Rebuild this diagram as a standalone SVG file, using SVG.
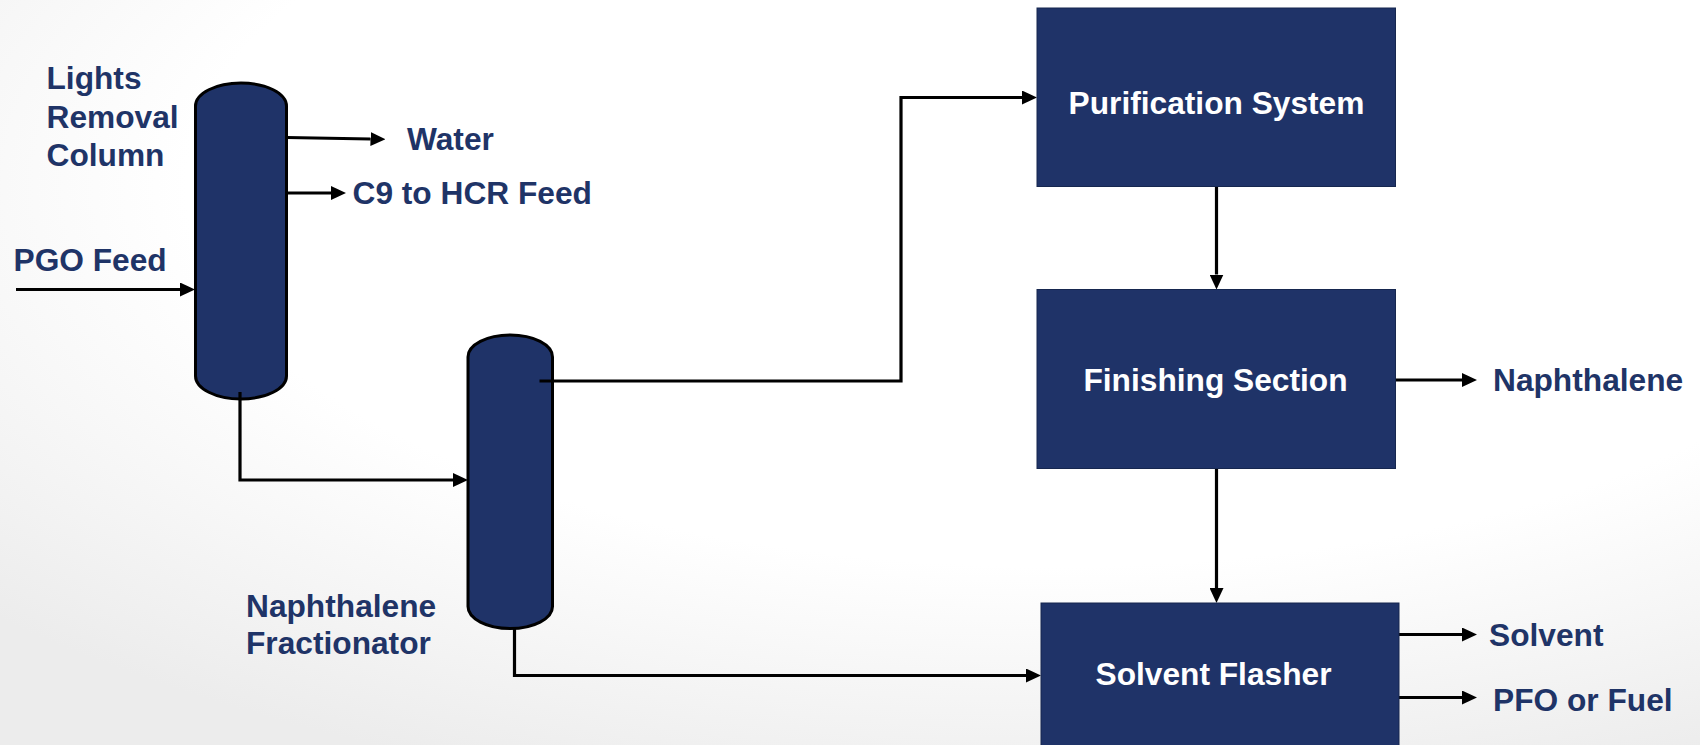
<svg xmlns="http://www.w3.org/2000/svg" width="1700" height="745" viewBox="0 0 1700 745">
  <style>
    .lbl { font-family: "Liberation Sans", Arial, sans-serif; font-weight: bold; font-size: 31.7px; fill: #1F3467; }
    .boxtxt { font-family: "Liberation Sans", Arial, sans-serif; font-weight: bold; font-size: 31.7px; fill: #FFFFFF; text-anchor: middle; }
    .vessel { fill: #1F3368; stroke: #000000; stroke-width: 3; }
    .unit { fill: #1F3368; stroke: #16274F; stroke-width: 1; }
    .flow { fill: none; stroke: #000000; stroke-width: 3.2; stroke-linejoin: miter; }
  </style>
  <defs>
    <radialGradient id="bg" cx="0.62" cy="0.25" r="0.85">
      <stop offset="0" stop-color="#FFFFFF"/>
      <stop offset="0.6" stop-color="#FFFFFF"/>
      <stop offset="1" stop-color="#ECECEC"/>
    </radialGradient>
    <marker id="arrow" markerUnits="userSpaceOnUse" viewBox="0 0 15 14" refX="0" refY="7" markerWidth="15" markerHeight="14" orient="auto">
      <path d="M0,0 L15,7 L0,14 Z" fill="#000000"/>
    </marker>
  </defs>

  <!-- page background -->
  <rect x="0" y="0" width="1700" height="745" fill="url(#bg)"/>

  <!-- lights removal column -->
  <g id="lights-removal-column">
    <path class="vessel" d="M195.5,106 A45.5,23 0 0 1 286.5,106 V376 A45.5,23 0 0 1 195.5,376 Z"/>
    <text class="lbl" x="46.5" y="89">Lights</text>
    <text class="lbl" x="46.5" y="127.5">Removal</text>
    <text class="lbl" x="46.5" y="166">Column</text>
  </g>

  <!-- naphthalene fractionator -->
  <g id="naphthalene-fractionator">
    <path class="vessel" d="M468,357 A42.25,22 0 0 1 552.5,357 V606.5 A42.25,22 0 0 1 468,606.5 Z"/>
    <text class="lbl" x="246" y="616.5">Naphthalene</text>
    <text class="lbl" x="246" y="654">Fractionator</text>
  </g>

  <!-- process streams (drawn over the vessels so draw-off nozzles show) -->
  <g id="connectors">
    <path class="flow" d="M16,289.5 H180" marker-end="url(#arrow)"/>
    <path class="flow" d="M287,137.5 L370.5,139" marker-end="url(#arrow)"/>
    <path class="flow" d="M287,193 H331" marker-end="url(#arrow)"/>
    <path class="flow" d="M240,392 V480 H453" marker-end="url(#arrow)"/>
    <path class="flow" d="M539.5,381 H901 V97.5 H1022" marker-end="url(#arrow)"/>
    <path class="flow" d="M514.5,628 V675.5 H1026" marker-end="url(#arrow)"/>
    <path class="flow" d="M1216.5,186.5 V274.5" marker-end="url(#arrow)"/>
    <path class="flow" d="M1216.5,468.5 V588" marker-end="url(#arrow)"/>
    <path class="flow" d="M1395.5,380 H1462" marker-end="url(#arrow)"/>
    <path class="flow" d="M1399,634.5 H1462" marker-end="url(#arrow)"/>
    <path class="flow" d="M1399,697.5 H1462" marker-end="url(#arrow)"/>
  </g>

  <!-- stream labels -->
  <g id="pgo-feed"><text class="lbl" x="13.5" y="271">PGO Feed</text></g>
  <g id="water"><text class="lbl" x="407" y="150">Water</text></g>
  <g id="c9-feed"><text class="lbl" x="352.5" y="203.5">C9 to HCR Feed</text></g>
  <g id="naphthalene-product"><text class="lbl" x="1493" y="391">Naphthalene</text></g>
  <g id="solvent-product"><text class="lbl" x="1489" y="646">Solvent</text></g>
  <g id="pfo-product"><text class="lbl" x="1493" y="710.5">PFO or Fuel</text></g>

  <!-- processing units -->
  <g id="purification-system">
    <rect class="unit" x="1037" y="8" width="358.5" height="178.5"/>
    <text class="boxtxt" x="1216.5" y="114">Purification System</text>
  </g>
  <g id="finishing-section">
    <rect class="unit" x="1037" y="289.5" width="358.5" height="179"/>
    <text class="boxtxt" x="1215.5" y="390.5">Finishing Section</text>
  </g>
  <g id="solvent-flasher">
    <rect class="unit" x="1041" y="603" width="358" height="150"/>
    <text class="boxtxt" x="1213.5" y="685">Solvent Flasher</text>
  </g>
</svg>
